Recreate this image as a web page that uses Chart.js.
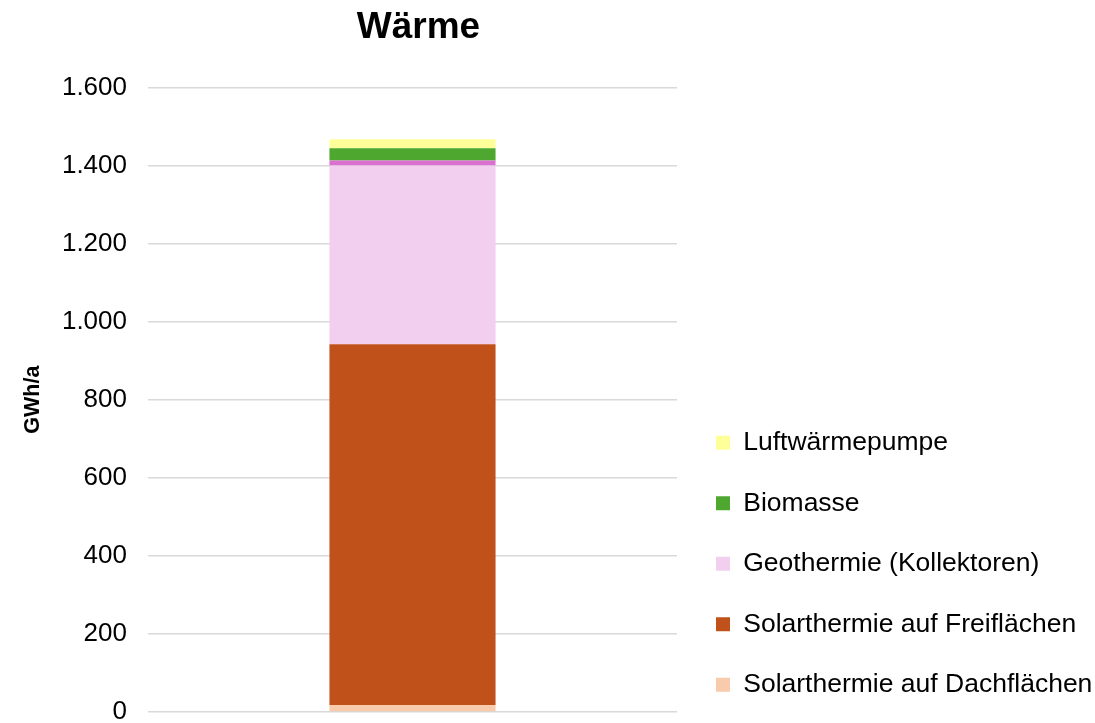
<!DOCTYPE html>
<html>
<head>
<meta charset="utf-8">
<script src="https://cdn.jsdelivr.net/npm/chart.js@4"></script>
<style>
  body { margin: 0; background: #fff; }
  #wrap { width: 1095px; height: 723px; }
</style>
</head>
<body>
<div id="wrap"><canvas id="chart"></canvas></div>
<script>
const categories = ["Wärme"];
const dachflaechen = [18];
const freiflaechen = [924];
const geothermie = [458];
const sonden = [13];
const biomasse = [31];
const luftwaerme = [23];
const yTicks = [0, 200, 400, 600, 800, 1000, 1200, 1400, 1600];

const ctx = document.getElementById("chart").getContext("2d");
Chart.defaults.font.family = "'Liberation Sans', Arial, sans-serif";
Chart.defaults.color = "#000";

// legend on the right needs more room than chart.js gives vertical boxes
const wideLegend = {
  id: "wideLegend",
  afterInit(chart) {
    const legend = chart.legend;
    const fit = legend.fit.bind(legend);
    legend.fit = function () {
      fit();
      this.width = 418;
    };
  },
  afterLayout(chart) {
    chart.legend.left += 5;
    chart.legend.right += 5;
    chart.legend.top += 9;
    chart.legend.bottom += 9;
    chart.titleBlock.left += 6;
    chart.titleBlock.right += 6;
  }
};

const myChart = new Chart(ctx, {
  type: "bar",
  data: {
    labels: categories,
    datasets: [
      { label: "Solarthermie auf Dachflächen", data: dachflaechen, backgroundColor: "#F8CBAD" },
      { label: "Solarthermie auf Freiflächen", data: freiflaechen, backgroundColor: "#C0511A" },
      { label: "Geothermie (Kollektoren)", data: geothermie, backgroundColor: "#F2CEEF" },
      { label: "", data: sonden, backgroundColor: "#DA70D0" },
      { label: "Biomasse", data: biomasse, backgroundColor: "#4EA72E" },
      { label: "Luftwärmepumpe", data: luftwaerme, backgroundColor: "#FFFF99" }
    ]
  },
  options: {
    responsive: true,
    maintainAspectRatio: false,
    animation: false,
    layout: { padding: { left: 10, right: 0, top: 0, bottom: 0 } },
    datasets: { bar: { categoryPercentage: 1, barPercentage: 0.314 } },
    scales: {
      x: {
        stacked: true,
        display: false
      },
      y: {
        stacked: true,
        min: 0,
        max: 1600,
        afterBuildTicks: (axis) => { axis.ticks = yTicks.map(v => ({ value: v })); },
        afterFit: (axis) => {
          axis.width = 138;
          axis.paddingBottom = 11;
        },
        grid: { color: "#d9d9d9", lineWidth: 1.5, drawTicks: false },
        border: { display: false },
        ticks: {
          padding: 21,
          font: { size: 26 },
          callback: (v) => v.toLocaleString("de-DE")
        },
        title: { display: true, text: "GWh/a", font: { size: 21.5, weight: "bold" }, padding: { top: 10, bottom: 0 } }
      }
    },
    plugins: {
      title: {
        display: true,
        text: "Wärme",
        fullSize: false,
        font: { size: 37, weight: "bold" },
        padding: { top: 6, bottom: 37 }
      },
      legend: {
        position: "right",
        align: "end",
        reverse: true,
        labels: {
          boxWidth: 14,
          boxHeight: 14,
          padding: 34,
          font: { size: 26.5 },
          filter: (item) => item.text !== ""
        }
      },
      tooltip: { enabled: false }
    }
  },
  plugins: [wideLegend]
});
</script>
</body>
</html>
